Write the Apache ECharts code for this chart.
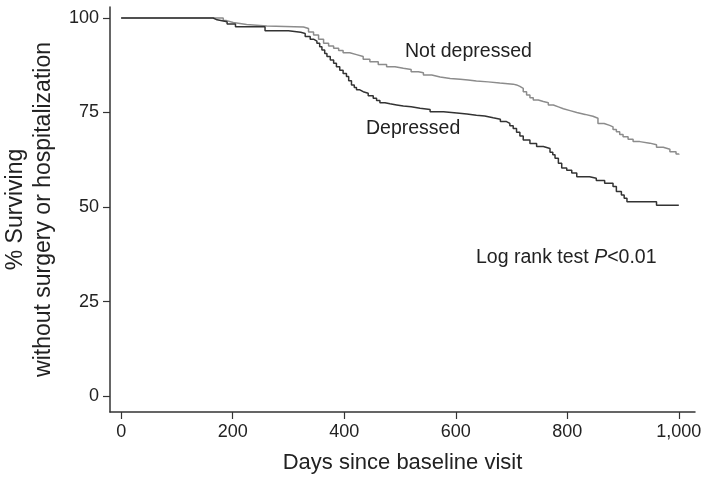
<!DOCTYPE html>
<html>
<head>
<meta charset="utf-8">
<script src="https://cdn.jsdelivr.net/npm/echarts@6/dist/echarts.min.js"></script>
<style>
html,body{margin:0;padding:0;background:#fff;}
#chart{width:708px;height:479px;}
</style>
</head>
<body>
<div id="chart"></div>
<script>
// Data
var xTicks = [0, 200, 400, 600, 800, 1000];
var yTicks = [0, 25, 50, 75, 100];

var daysDepressed = [0, 165, 172, 190, 205, 258, 300, 322, 330, 339, 345, 351, 356, 360, 365, 369, 375, 381, 386, 392, 398, 404, 408, 413, 418, 422, 428, 434, 443, 452, 458, 464, 473, 482, 494, 506, 520, 536, 554, 578, 602, 620, 637, 652, 667, 680, 691, 697, 703, 709, 715, 721, 733, 745, 757, 769, 774, 778, 784, 790, 799, 808, 817, 840, 852, 867, 882, 888, 897, 902, 907, 960, 1000];
var survDepressed = [100, 99.5, 99.0, 98.4, 97.7, 96.6, 96.2, 95.9, 95.1, 94.4, 93.9, 93.3, 92.4, 91.5, 90.6, 89.8, 88.9, 88.0, 87.1, 86.2, 85.3, 84.5, 83.4, 82.3, 81.6, 81.0, 80.5, 80.1, 79.4, 78.8, 78.2, 77.6, 77.3, 77.0, 76.7, 76.5, 76.1, 75.8, 75.2, 74.9, 74.6, 74.3, 74.1, 73.6, 73.2, 72.6, 72.1, 71.5, 70.8, 69.8, 68.8, 67.7, 66.8, 66.0, 65.5, 64.5, 63.8, 62.9, 61.6, 60.3, 59.7, 59.0, 58.0, 57.6, 57.0, 56.3, 55.4, 54.1, 53.2, 52.3, 51.4, 50.5, 50.5];

var daysNotDepressed = [0, 183, 189, 201, 225, 261, 327, 336, 345, 354, 363, 372, 381, 390, 398, 410, 422, 434, 446, 461, 476, 491, 506, 520, 533, 542, 557, 572, 590, 608, 622, 637, 658, 679, 703, 709, 715, 721, 727, 733, 739, 748, 757, 766, 775, 784, 793, 805, 817, 832, 846, 855, 866, 876, 882, 888, 894, 900, 909, 918, 930, 948, 960, 972, 984, 995, 1000];
var survNotDepressed = [100, 99.3, 98.8, 98.3, 97.9, 97.6, 97.2, 96.3, 95.5, 94.4, 93.3, 92.6, 92.0, 91.4, 90.8, 90.3, 89.8, 89.1, 88.4, 87.7, 87.1, 86.7, 86.4, 85.8, 85.5, 84.9, 84.4, 84.0, 83.8, 83.6, 83.3, 83.1, 82.8, 82.5, 82.3, 81.9, 81.4, 80.5, 79.6, 78.9, 78.3, 77.9, 77.6, 77.0, 76.5, 76.0, 75.5, 75.0, 74.5, 74.0, 73.5, 72.1, 71.6, 71.2, 70.5, 69.9, 69.2, 68.6, 67.9, 67.3, 66.9, 66.5, 65.8, 65.3, 64.6, 64.0, 63.8];

function pairs(xs, ys) {
  var out = [];
  for (var i = 0; i < xs.length; i++) out.push([xs[i], ys[i]]);
  return out;
}

var FONT = 'Liberation Sans, Arial, sans-serif';
var chart = echarts.init(document.getElementById('chart'));
chart.setOption({
  animation: false,
  backgroundColor: '#fff',
  grid: {left: 110, right: 13, top: 7, bottom: 67, containLabel: false, outerBoundsMode: 'none'},
  xAxis: {
    type: 'value',
    min: -20, max: 1029,
    name: 'Days since baseline visit',
    nameLocation: 'middle',
    nameGap: 40,
    nameTextStyle: {fontFamily: FONT, fontSize: 22, color: '#222'},
    splitLine: {show: false},
    axisLine: {show: true, onZero: false, lineStyle: {color: '#333', width: 1.5}},
    axisTick: {show: true, customValues: xTicks, length: 7, lineStyle: {color: '#333', width: 1.2}},
    axisLabel: {
      customValues: xTicks, margin: 11,
      fontFamily: FONT, fontSize: 18, color: '#222',
      formatter: function (v) { return v >= 1000 ? (Math.floor(v/1000) + ',' + String(v % 1000).padStart(3, '0')) : String(v); }
    }
  },
  yAxis: {
    type: 'value',
    min: -4.2, max: 102.9,
    name: '% Surviving\nwithout surgery or hospitalization',
    nameLocation: 'middle',
    nameRotate: 90,
    nameGap: 33,
    nameTextStyle: {fontFamily: FONT, fontSize: 23, color: '#222', lineHeight: 28},
    splitLine: {show: false},
    axisLine: {show: true, onZero: false, lineStyle: {color: '#333', width: 1.5}},
    axisTick: {show: true, customValues: yTicks, length: 7, lineStyle: {color: '#333', width: 1.2}},
    axisLabel: {customValues: yTicks, margin: 11, fontFamily: FONT, fontSize: 18, color: '#222'}
  },
  series: [
    {
      name: 'Not depressed', type: 'line', step: 'end', symbol: 'none',
      lineStyle: {color: '#8c8c8c', width: 1.5},
      data: pairs(daysNotDepressed, survNotDepressed), z: 2
    },
    {
      name: 'Depressed', type: 'line', step: 'end', symbol: 'none',
      lineStyle: {color: '#333333', width: 1.5},
      data: pairs(daysDepressed, survDepressed), z: 3
    }
  ],
  graphic: [
    {type: 'text', left: 405, top: 42, style: {text: 'Not depressed', font: '19.5px ' + FONT, fill: '#222'}},
    {type: 'text', left: 366, top: 119, style: {text: 'Depressed', font: '19.5px ' + FONT, fill: '#222'}},
    {type: 'text', left: 476, top: 248, style: {
      text: '{a|Log rank test }{b|P}{a|<0.01}',
      rich: {
        a: {fontFamily: FONT, fontSize: 19.5, fill: '#222', color: '#222'},
        b: {fontFamily: FONT, fontSize: 19.5, fontStyle: 'italic', fill: '#222', color: '#222'}
      }
    }}
  ]
});
</script>
</body>
</html>
